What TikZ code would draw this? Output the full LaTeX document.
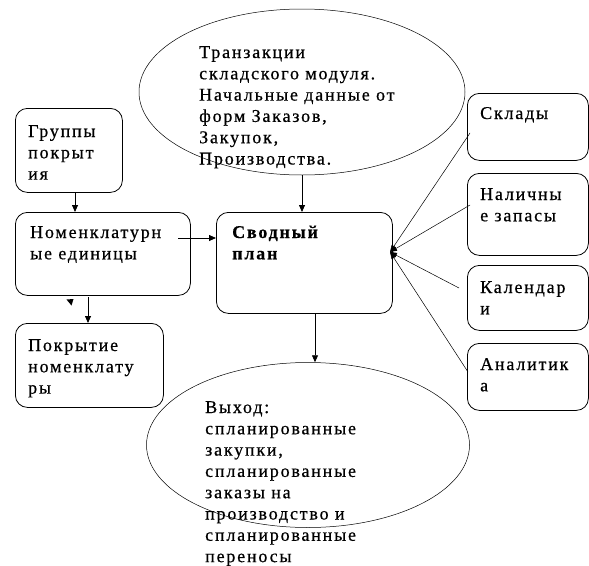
\documentclass[tikz,border=0pt]{standalone}
\usepackage{fontspec}
\setmainfont[LetterSpace=10,FakeBold=0.6]{Liberation Serif}
\usetikzlibrary{arrows.meta,shapes.geometric}
\newcommand\lines[1]{\parbox[t]{260pt}{#1}}
\begin{document}
\begin{tikzpicture}[x=1pt,y=-1pt,
  box/.style={draw, rounded corners=12pt, line width=0.8pt, inner sep=0pt, anchor=north west},
  oval/.style={draw, ellipse, line width=0.5pt, inner sep=0pt},
  txt/.style={anchor=base west, inner sep=0pt, font=\fontsize{18pt}{21.3pt}\selectfont},
  arr/.style={-{Triangle[length=7pt,width=6pt]}, line width=0.8pt},
  feed/.style={-{Triangle[length=7pt,width=5pt]}, line width=0.5pt}]
\useasboundingbox (0,0) rectangle (589,565);

% ellipses
\node[oval, minimum width=326pt, minimum height=166pt] (src) at (302,92) {};
\node[oval, minimum width=323pt, minimum height=165pt] (out) at (308,445) {};

% boxes
\node[box, minimum width=107pt, minimum height=84pt] (grp) at (15,108) {};
\node[box, minimum width=175pt, minimum height=83pt] (nom) at (15,212) {};
\node[box, minimum width=148pt, minimum height=84pt] (pok) at (15,323) {};
\node[box, minimum width=176pt, minimum height=101pt] (plan) at (216,212) {};
\node[box, minimum width=121pt, minimum height=67pt] (skl) at (467,93) {};
\node[box, minimum width=121pt, minimum height=82pt] (nal) at (467,173) {};
\node[box, minimum width=121pt, minimum height=65pt] (cal) at (467,265) {};
\node[box, minimum width=121pt, minimum height=67pt] (ana) at (467,343) {};

% texts
\node[txt] (srcT) at (199,58) {\lines{Транзакции\\складского модуля.\\Начальные данные от\\форм Заказов,\\Закупок,\\Производства.}};
\node[txt] (grpT) at (28,137) {\lines{Группы\\покрыт\\ия}};
\node[txt] (nomT) at (30,238) {\lines{Номенклатурн\\ые единицы}};
\node[txt] (pokT) at (28,351) {\lines{Покрытие\\номенклату\\ры}};
\node[txt, font=\fontsize{18pt}{21.3pt}\selectfont\bfseries] (planT) at (232,238) {\lines{Сводный\\план}};
\node[txt] (sklT) at (480,119) {\lines{Склады}};
\node[txt] (nalT) at (480,200) {\lines{Наличны\\е запасы}};
\node[txt] (calT) at (480,293) {\lines{Календар\\и}};
\node[txt] (anaT) at (480,370) {\lines{Аналитик\\а}};
\node[txt] (outT) at (205,413) {\lines{Выход:\\спланированные\\закупки,\\спланированные\\заказы на\\производство и\\спланированные\\переносы}};

% connectors
\draw[arr] (src.south) -- (src.south |- plan.north);
\coordinate (a1) at (75,192);
\draw[arr] (a1) -- (a1 |- nom.north);
\coordinate (a2) at (178,238);
\draw[arr] (a2) -- (a2 -| plan.west);
\coordinate (a3) at (88,297);
\draw[arr] (a3) -- (a3 |- pok.north);
\coordinate (a4) at (315,0);
\draw[arr] (a4 |- plan.south) -- (a4 |- out.north);

\coordinate (conv) at (390,252);
\coordinate (f1) at (470,133);
\coordinate (f2) at (470,205);
\coordinate (f3) at (459,288);
\coordinate (f4) at (468,372);
\draw[feed] (f1) -- (conv);
\draw[feed] (f2) -- (conv);
\draw[feed] (f3) -- (conv);
\draw[feed] (f4) -- (conv);

% stray arrowhead
\fill (66.5,299.5) -- (73.5,299) -- (71.5,305.5) -- cycle;
\end{tikzpicture}
\end{document}
